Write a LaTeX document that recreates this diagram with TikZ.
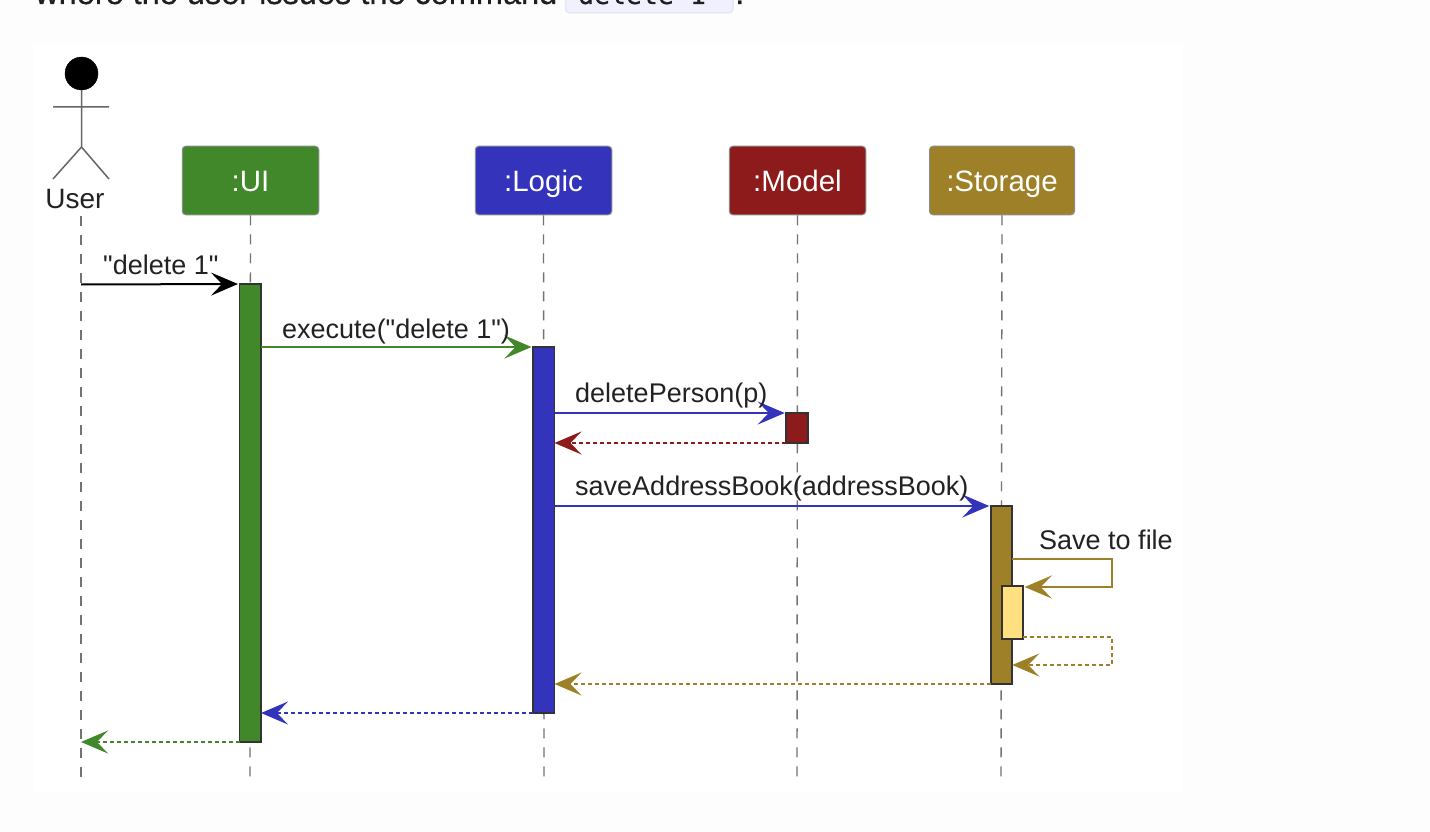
\documentclass[tikz,border=0pt]{standalone}
\usepackage{fontspec}
\setmainfont{Liberation Sans}
\newfontfamily\lblfont{Liberation Sans}
\newfontfamily\introfont[FakeBold=0.35]{Liberation Sans}
\newfontfamily\codefont[FakeBold=0.35]{DejaVu Sans Mono}
\usetikzlibrary{arrows.meta}
\definecolor{pagebg}{HTML}{FDFDFD}
\definecolor{cgreen}{HTML}{41882A}
\definecolor{cblue}{HTML}{3333BB}
\definecolor{cred}{HTML}{8E1B1B}
\definecolor{cbrown}{HTML}{9E8028}
\definecolor{cyellow}{HTML}{FFE080}
\definecolor{codebg}{HTML}{F0F0FF}
\definecolor{codeline}{HTML}{E8E8F2}
\definecolor{txt}{HTML}{222222}
\tikzset{
  x=1pt,y=-1pt,
  lbl/.style={font=\fontsize{27}{30}\lblfont,text=txt,inner sep=0pt,anchor=base west},
  headbox/.style={draw=black!45,line width=1pt,rounded corners=3.5pt,minimum height=68.5pt,inner sep=0pt,text=white,text height=23pt,text depth=0pt,font=\fontsize{29.5}{34}\lblfont},
  life/.style={draw=black!55,line width=1.4pt,dash pattern=on 10pt off 9pt},
  bar/.style={draw=black!80,line width=1.6pt,minimum width=21.5pt,inner sep=0pt,outer sep=0pt,anchor=north},
  msg/.style={line width=2pt,-{Stealth[length=27pt,width=23pt,inset=11pt]},shorten >=1.5pt},
  ret/.style={line width=2pt,-{Stealth[length=27pt,width=23pt,inset=11pt]},dash pattern=on 4pt off 3pt},
}
\begin{document}
\begin{tikzpicture}
\useasboundingbox (0,0) rectangle (1430,832);
\clip (0,0) rectangle (1430,832);
\fill[pagebg] (0,0) rectangle (1430,832);
\fill[white] (33,44) rectangle (1183,792);
% clipped text line above the diagram
\fill[codebg,draw=codeline,line width=1.5pt,rounded corners=4pt] (565.5,-20) rectangle (733,13);
\node[inner sep=0pt,anchor=base west,font=\fontsize{32.5}{36}\introfont,text=black!88] (intro) at (35,4) {where the user issues the command};
\node[inner sep=0pt,anchor=base west,font=\fontsize{26.5}{32}\codefont,text=black!88] (code) at (578,4) {delete 1};
\node[inner sep=0pt,anchor=base west,font=\fontsize{32.5}{36}\introfont,text=black!88] (dot) at (735,4) {.};
% actor
\node[circle,fill=black,draw=black,inner sep=0pt,minimum size=33pt] (ahead) at (81.5,73.5) {};
\coordinate (ahip) at (81.5,147);
\coordinate (alarm) at (53,107);
\coordinate (ararm) at (109,107);
\coordinate (alleg) at (53,179);
\coordinate (arleg) at (109,179);
\draw[draw=black!60,line width=1.5pt] (ahead.south) -- (ahip) (alarm) -- (ararm) (alleg) -- (ahip) -- (arleg);
\node[lbl,anchor=base,font=\fontsize{28}{32}\lblfont] (user) at (75,208) {User};
% heads
\node[headbox,fill=cgreen,minimum width=136.5pt] (ui) at (250.5,180.5) {:UI};
\node[headbox,fill=cblue,minimum width=136.5pt] (logic) at (543.5,180.5) {:Logic};
\node[headbox,fill=cred,minimum width=136.5pt] (model) at (797.5,180.5) {:Model};
\node[headbox,fill=cbrown,minimum width=145pt] (storage) at (1002,180.5) {:Storage};
% lifelines
\coordinate (userb) at (81,778);
\coordinate (uit) at (81,216);
\coordinate (uib) at (250,778);
\coordinate (logb) at (544,778);
\coordinate (modb) at (797,778);
\coordinate (stob) at (1001,778);
\draw[life] (uit) -- (userb);
\draw[life] (ui.south) -- (uib);
\draw[life] (logic.south) -- (logb);
\draw[life] (model.south) -- (modb);
\draw[life] (storage.south) -- (stob);
% bars
\node[bar,fill=cgreen,minimum height=458pt] (uibar) at (250.25,284) {};
\node[bar,fill=cblue,minimum height=366pt] (logbar) at (543.75,347) {};
\node[bar,fill=cred,minimum height=30pt] (modbar) at (797,413) {};
\node[bar,fill=cbrown,minimum height=178pt] (stobar) at (1001.5,506) {};
\node[bar,fill=cyellow,minimum height=53pt] (innbar) at (1012.5,586) {};
% messages
\coordinate (u1) at (81,284.5);
\draw[msg,draw=black] (u1) -- (uibar.north west);
\draw[msg,draw=cgreen] (uibar.east |- logbar.north) -- (logbar.north west);
\draw[msg,draw=cblue] (logbar.east |- modbar.north) -- (modbar.north west);
\draw[ret,draw=cred] (modbar.south west) -- (logbar.east |- modbar.south);
\draw[msg,draw=cblue] (logbar.east |- stobar.north) -- (stobar.north west);
\coordinate (s1) at (1112,559);
\coordinate (s2) at (1112,587);
\coordinate (s3) at (1112,636.5);
\coordinate (s4) at (1112,665);
\draw[msg,draw=cbrown] (stobar.east |- s1) -- (s1) -- (s2) -- (innbar.east |- s2);
\draw[ret,draw=cbrown] (innbar.east |- s3) -- (s3) -- (s4) -- (stobar.east |- s4);
\draw[ret,draw=cbrown] (stobar.south west) -- (logbar.east |- stobar.south);
\draw[ret,draw=cblue] (logbar.south west) -- (uibar.east |- logbar.south);
\draw[ret,draw=cgreen] (uibar.south west) -- (userb |- uibar.south);
% labels
\node[lbl] (l1) at (103,274) {"delete 1"};
\node[lbl] (l2) at (282,338) {execute("delete 1")};
\node[lbl] (l3) at (575,402) {deletePerson(p)};
\node[lbl] (l4) at (575,495) {saveAddressBook(addressBook)};
\node[lbl] (l5) at (1039,549) {Save to file};
\end{tikzpicture}
\end{document}
